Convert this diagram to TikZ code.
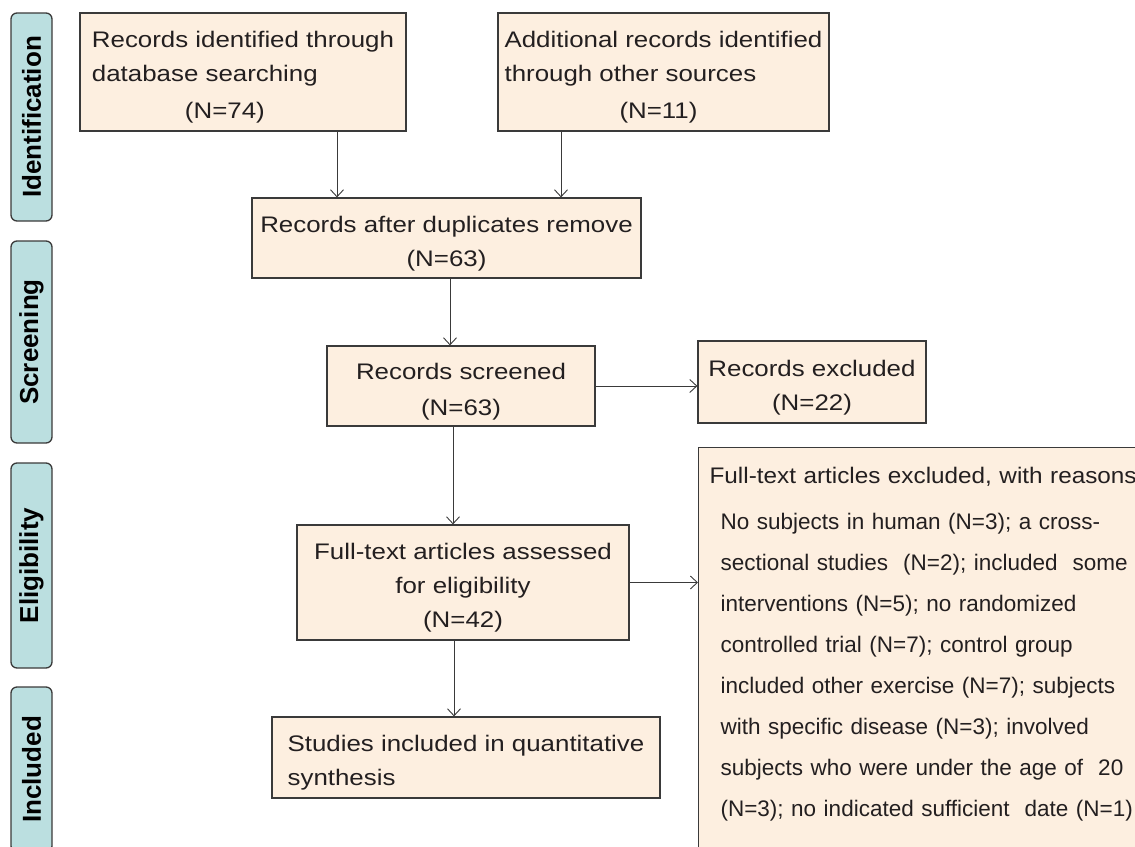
\documentclass[tikz,border=0pt]{standalone}
\usepackage{fontspec}
\setmainfont{Liberation Sans}
\newfontfamily\flowfont{Liberation Sans}[FakeStretch=1.15]
\newfontfamily\reasonfont{Liberation Sans}[FakeStretch=1.08]
\usetikzlibrary{arrows.meta,calc}
\definecolor{PrisPeach}{HTML}{FDEFE0}
\definecolor{PrisTeal}{HTML}{BBDFE0}
\definecolor{PrisLine}{HTML}{3A3A3A}
\definecolor{PrisText}{HTML}{231F20}
\newcommand{\firstgap}{\rule{0pt}{27pt}}

\begin{document}
\begin{tikzpicture}[
  x=1pt,y=-1pt,
  stage/.style={draw=PrisLine,fill=PrisTeal,line width=1.3pt,rounded corners=6pt,
    rotate=90,minimum height=41pt,inner sep=0pt,text=black,
    font=\bfseries\fontsize{26}{30}\selectfont},
  record/.style={draw=PrisLine,fill=PrisPeach,line width=1.2pt,inner sep=0pt,
    text=PrisText,font=\flowfont\fontsize{22.5}{34}\selectfont},
  arrow/.style={-{Straight Barb[length=7pt,width=13pt]},line width=0.9pt,draw=PrisLine}
]
  \useasboundingbox (0,0) rectangle (1135,846);
  \clip (0,0) rectangle (1135,846);

  \node[stage,minimum width=208pt] (ident) at (31.5,117) {Identification};
  \node[stage,minimum width=202pt] (screen) at (31.5,342) {Screening};
  \node[stage,minimum width=205pt] (elig) at (31.5,565.5) {Eligibility};
  \node[stage,minimum width=165pt] (incl) at (31.5,769.5) {Included};

  \node[record,minimum width=326pt,minimum height=118pt,align=left] (dbsearch) at (243,72)
    {\firstgap Records identified through\\database searching\\[3pt]\hspace*{93pt}(N=74)};
  \node[record,minimum width=331pt,minimum height=118pt,align=left] (othersrc) at (663.5,72)
    {\firstgap Additional records identified\\through other sources\\[3pt]\hspace*{115pt}(N=11)};
  \node[record,minimum width=389pt,minimum height=80pt,align=center] (dedup) at (446.5,238)
    {\firstgap Records after duplicates remove\\(N=63)};
  \node[record,minimum width=268pt,minimum height=80pt,align=center] (screened) at (461,386)
    {\firstgap Records screened\\[2pt](N=63)};
  \node[record,minimum width=228pt,minimum height=82pt,align=center] (excluded) at (812,382)
    {\firstgap Records excluded\\(N=22)};
  \node[record,minimum width=332pt,minimum height=115pt,align=center] (fulltext) at (463,582.5)
    {\firstgap Full-text articles assessed\\for eligibility\\(N=42)};
  \node[record,minimum width=388pt,minimum height=81pt,align=left] (synth) at (466,757.5)
    {\firstgap Studies included in quantitative\\synthesis};
  \node[record,anchor=north west,text width=470pt,align=left,inner xsep=11pt,inner ysep=19.5pt,
    text depth=420pt,font=\fontsize{22.5}{41}\selectfont] (reasons) at (698,447)
    {{\reasonfont Full-text articles excluded, with reasons}\\[5pt]
     \hspace*{11pt}No subjects in human (N=3); a cross-\\
     \hspace*{11pt}sectional studies\ \ (N=2); included\ \ some\\
     \hspace*{11pt}interventions (N=5); no randomized\\
     \hspace*{11pt}controlled trial (N=7); control group\\
     \hspace*{11pt}included other exercise (N=7); subjects\\
     \hspace*{11pt}with specific disease (N=3); involved\\
     \hspace*{11pt}subjects who were under the age of\ \ 20\\
     \hspace*{11pt}(N=3); no indicated sufficient\ \ date (N=1)};

  \coordinate (dbfoot) at ([xshift=94pt]dbsearch.south);
  \coordinate (otherfoot) at ([xshift=-102.5pt]othersrc.south);
  \coordinate (dedupfoot) at ([xshift=3.5pt]dedup.south);
  \coordinate (screenfoot) at ([xshift=-8pt]screened.south);
  \coordinate (fullfoot) at ([xshift=-9pt]fulltext.south);

  \draw[arrow] (dbfoot) -- (dbfoot |- dedup.north);
  \draw[arrow] (otherfoot) -- (otherfoot |- dedup.north);
  \draw[arrow] (dedupfoot) -- (dedupfoot |- screened.north);
  \draw[arrow] (screened.east) -- (screened.east -| excluded.west);
  \draw[arrow] (screenfoot) -- (screenfoot |- fulltext.north);
  \draw[arrow] (fulltext.east) -- (fulltext.east -| reasons.west);
  \draw[arrow] (fullfoot) -- (fullfoot |- synth.north);
\end{tikzpicture}
\end{document}
